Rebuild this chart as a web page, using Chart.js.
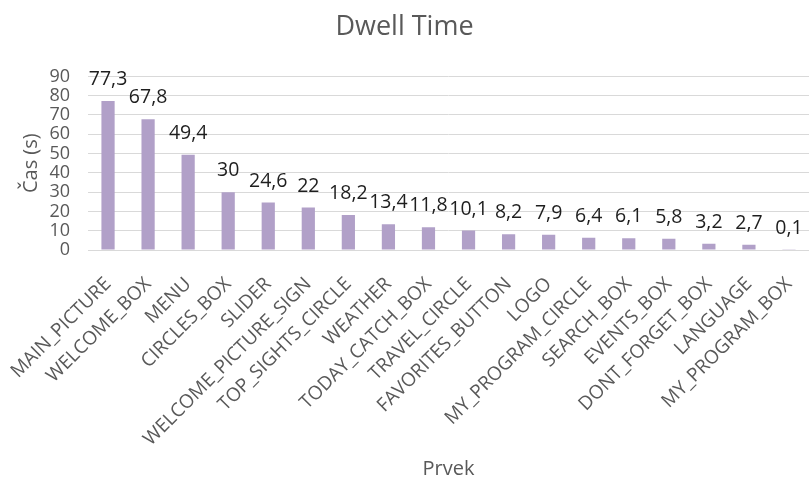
<!DOCTYPE html>
<html>
<head>
<meta charset="utf-8">
<script src="https://cdn.jsdelivr.net/npm/chart.js@4/dist/chart.umd.min.js"></script>
<style>
  html, body { margin: 0; padding: 0; background: #ffffff; }
  #wrap { width: 809px; height: 481px; }
</style>
</head>
<body>
<div id="wrap"><canvas id="c" width="809" height="481"></canvas></div>
<script>
// Dwell time per page element (seconds)
const categories = [
  'MAIN_PICTURE', 'WELCOME_BOX', 'MENU', 'CIRCLES_BOX', 'SLIDER',
  'WELCOME_PICTURE_SIGN', 'TOP_SIGHTS_CIRCLE', 'WEATHER', 'TODAY_CATCH_BOX',
  'TRAVEL_CIRCLE', 'FAVORITES_BUTTON', 'LOGO', 'MY_PROGRAM_CIRCLE',
  'SEARCH_BOX', 'EVENTS_BOX', 'DONT_FORGET_BOX', 'LANGUAGE', 'MY_PROGRAM_BOX'
];
const dwellTime = [77.3, 67.8, 49.4, 30, 24.6, 22, 18.2, 13.4, 11.8, 10.1, 8.2, 7.9, 6.4, 6.1, 5.8, 3.2, 2.7, 0.1];
const yTicks = [0, 10, 20, 30, 40, 50, 60, 70, 80, 90];

const FONT = "'Open Sans', 'Noto Sans', sans-serif";
const GREY = '#595959';

// Writes each bar's value above it, with a decimal comma
const valueLabels = {
  id: 'valueLabels',
  afterDatasetsDraw(chart) {
    const ctx = chart.ctx;
    const meta = chart.getDatasetMeta(0);
    ctx.save();
    ctx.font = '19.5px ' + FONT;
    ctx.fillStyle = '#1e1e1e';
    ctx.textAlign = 'center';
    ctx.textBaseline = 'alphabetic';
    meta.data.forEach((bar, i) => {
      const txt = String(dwellTime[i]).replace('.', ',');
      ctx.fillText(txt, bar.x, bar.y - 16);
    });
    ctx.restore();
  }
};

new Chart(document.getElementById('c'), {
  type: 'bar',
  data: {
    labels: categories,
    datasets: [{
      data: dwellTime,
      backgroundColor: '#B1A0C8',
      borderWidth: 0,
      barPercentage: 0.33,
      categoryPercentage: 1.0
    }]
  },
  plugins: [valueLabels],
  options: {
    responsive: false,
    animation: false,
    devicePixelRatio: 1,
    layout: { padding: { left: 0, right: 0, top: 0, bottom: 0 } },
    plugins: {
      legend: { display: false },
      tooltip: { enabled: false },
      title: {
        display: true,
        text: 'Dwell Time',
        color: GREY,
        font: { family: FONT, size: 27, weight: 'normal' },
        padding: { top: 11, bottom: 33 }
      }
    },
    scales: {
      x: {
        grid: { display: false, drawTicks: false },
        border: { display: true, color: '#D9D9D9', width: 1 },
        ticks: {
          color: GREY,
          font: { family: FONT, size: 19 },
          minRotation: 45,
          maxRotation: 45,
          autoSkip: false,
          padding: 23
        },
        title: {
          display: true,
          text: 'Prvek',
          color: GREY,
          font: { family: FONT, size: 20 },
          padding: { top: 0, bottom: 0 }
        },
        afterFit(scale) {
          scale.height = 231;
          scale.paddingLeft = 0;
          scale.paddingRight = 0;
        }
      },
      y: {
        min: 0,
        max: 90,
        afterBuildTicks(scale) {
          scale.ticks = yTicks.map(v => ({ value: v }));
        },
        grid: { color: '#D9D9D9', drawTicks: false, lineWidth: 1 },
        border: { display: false },
        ticks: {
          color: GREY,
          font: { family: FONT, size: 18 },
          padding: 18,
          autoSkip: false
        },
        title: {
          display: true,
          text: 'Čas (s)',
          color: GREY,
          font: { family: FONT, size: 20 },
          padding: { top: 19, bottom: 0 }
        },
        afterFit(scale) {
          scale.width = 88;
        }
      }
    }
  }
});
</script>
</body>
</html>
